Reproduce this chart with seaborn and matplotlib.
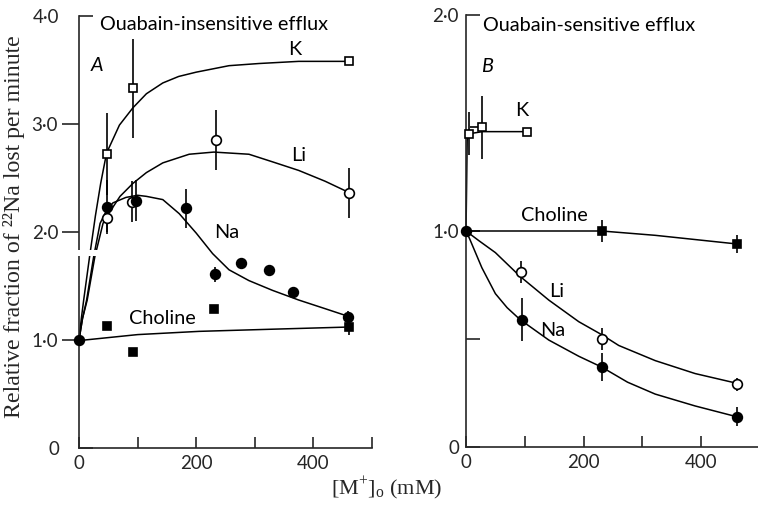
import matplotlib
matplotlib.use("Agg")
import matplotlib.pyplot as plt
import seaborn as sns
import numpy as np

# ---------------- data: panel A (ouabain-insensitive) ----------------
origin_x = [0]
origin_y = [1.0]

a_k_x = [47, 92, 460]
a_k_y = [2.72, 3.33, 3.58]
a_k_err = [0.38, 0.46, 0.0]

a_li_x = [47, 90, 233, 460]
a_li_y = [2.13, 2.28, 2.85, 2.36]
a_li_err = [0.13, 0.19, 0.28, 0.23]

a_na_x = [47, 97, 183, 232, 276, 324, 366, 459]
a_na_y = [2.23, 2.29, 2.22, 1.61, 1.71, 1.65, 1.44, 1.21]
a_na_err = [0.25, 0.19, 0.18, 0.07, 0.0, 0.0, 0.0, 0.06]

a_ch_x = [47, 92, 230, 460]
a_ch_y = [1.13, 0.89, 1.29, 1.12]
a_ch_err = [0.0, 0.0, 0.0, 0.07]

# fitted curves
a_k_cx = [0, 4, 8, 18, 28, 37, 47, 69, 92, 115, 143, 170, 200, 256, 307, 375, 460]
a_k_cy = [1.0, 1.2, 1.37, 1.77, 2.15, 2.45, 2.73, 2.99, 3.15, 3.28, 3.38, 3.44, 3.48, 3.54, 3.56, 3.58, 3.58]
a_li_cx = [0, 6, 14, 27, 41, 47, 70, 92, 115, 143, 188, 230, 290, 330, 375, 420, 459]
a_li_cy = [1.0, 1.2, 1.37, 1.77, 2.08, 2.14, 2.33, 2.45, 2.55, 2.64, 2.72, 2.74, 2.72, 2.65, 2.57, 2.47, 2.37]
a_na_cx = [0, 6, 13, 25, 36, 47, 58, 80, 100, 115, 143, 171, 200, 228, 256, 290, 330, 375, 420, 459]
a_na_cy = [1.0, 1.2, 1.37, 1.77, 2.08, 2.20, 2.27, 2.32, 2.34, 2.33, 2.30, 2.17, 1.99, 1.80, 1.65, 1.55, 1.46, 1.37, 1.29, 1.22]
a_ch_cx = [0, 10, 100, 205, 330, 460]
a_ch_cy = [1.0, 1.0, 1.05, 1.08, 1.10, 1.12]

# ---------------- data: panel B (ouabain-sensitive) ----------------
b_k_x = [5, 28, 103]
b_k_y = [1.45, 1.48, 1.46]
b_k_err = [0.10, 0.145, 0.0]
b_k_xerr_left = [0, 22, 0]

b_li_x = [93, 231, 461]
b_li_y = [0.81, 0.50, 0.29]
b_li_err = [0.05, 0.05, 0.03]

b_na_x = [95, 231, 461]
b_na_y = [0.59, 0.37, 0.14]
b_na_err = [0.10, 0.065, 0.045]

b_ch_x = [231, 461]
b_ch_y = [1.0, 0.94]
b_ch_err = [0.05, 0.04]

b_k_cx = [0, 1, 2, 5, 28, 103]
b_k_cy = [1.0, 1.2, 1.42, 1.45, 1.46, 1.46]
b_ch_cx = [0, 120, 231, 322, 461]
b_ch_cy = [1.0, 1.0, 1.0, 0.98, 0.94]
b_li_cx = [0, 22, 50, 92, 141, 192, 231, 260, 322, 390, 461]
b_li_cy = [1.0, 0.955, 0.90, 0.79, 0.68, 0.58, 0.52, 0.47, 0.40, 0.34, 0.295]
b_na_cx = [0, 6, 13, 27, 50, 70, 92, 141, 192, 231, 275, 322, 390, 461]
b_na_cy = [1.0, 0.965, 0.92, 0.83, 0.71, 0.645, 0.59, 0.495, 0.42, 0.37, 0.30, 0.245, 0.19, 0.14]

a_yticks = [1, 2, 3]
a_yticklabels = ["1·0", "2·0", "3·0"]
b_yticks = [0, 0.5, 1.0, 2.0]
b_yticklabels = ["0", "", "1·0", "2·0"]
xticks = [0, 100, 200, 300, 400, 500]
xticklabels = ["0", "", "200", "", "400", ""]

# ---------------- style ----------------
sns.set_style("ticks")
plt.rcParams["font.family"] = ["Lato", "DejaVu Sans"]
plt.rcParams["axes.linewidth"] = 1.2
plt.rcParams["mathtext.fontset"] = "custom"
plt.rcParams["mathtext.rm"] = "Liberation Serif"

fig = plt.figure(figsize=(7.58, 5.11), dpi=100)
axA = fig.add_axes([79 / 758, 63 / 511, 293 / 758, 432 / 511])
axB = fig.add_axes([466 / 758, 64 / 511, 293.75 / 758, 432 / 511])

LW = 1.1
TICKFS = 13.5
common_line = dict(color="black", linewidth=LW, estimator=None, sort=False, legend=False)


def curve(ax, xs, ys):
    sns.lineplot(x=xs, y=ys, ax=ax, **common_line)
    for l in ax.lines[-1:]:
        l.set_clip_on(False)
        l.set_solid_joinstyle("round")


def points(ax, xs, ys, err, marker, filled, ms, xerr=None):
    ax.errorbar(xs, ys, yerr=err, xerr=xerr, fmt=marker, ms=ms,
                mfc="black" if filled else "white", mec="black", mew=1.2,
                ecolor="black", elinewidth=1.2, capsize=0, clip_on=False, zorder=4)


for ax in (axA, axB):
    for s in ("top", "right"):
        ax.spines[s].set_visible(False)
    ax.set_xlim(0, 500)
    ax.set_xticks(xticks)
    ax.set_xticklabels(xticklabels)
    ax.tick_params(axis="x", direction="in", length=8, width=1.2, labelsize=TICKFS, pad=5)
    ax.set_xlabel("")
    ax.set_ylabel("")

# ---- panel A ----
axA.set_ylim(0, 4.0)
axA.set_yticks(a_yticks)
axA.set_yticklabels(a_yticklabels)
axA.tick_params(axis="y", which="major", direction="out", length=12, width=1.2, labelsize=TICKFS, pad=3)
axA.set_yticks([0, 4.0], minor=True)
axA.set_yticklabels(["0", "4·0"], minor=True)
axA.tick_params(axis="y", which="minor", direction="in", length=10, width=1.2, labelsize=TICKFS, pad=14)

curve(axA, a_k_cx, a_k_cy)
curve(axA, a_li_cx, a_li_cy)
curve(axA, a_na_cx, a_na_cy)
curve(axA, a_ch_cx, a_ch_cy)
points(axA, a_k_x, a_k_y, a_k_err, "s", False, 6)
points(axA, a_li_x, a_li_y, a_li_err, "o", False, 7)
points(axA, a_na_x, a_na_y, a_na_err, "o", True, 7)
points(axA, a_ch_x, a_ch_y, a_ch_err, "s", True, 6)
points(axA, origin_x, origin_y, None, "o", True, 7)
# axis break
axA.axhspan(1.775, 1.83, xmin=-0.03, xmax=0.07, facecolor="white", edgecolor="none", zorder=5, clip_on=False)

tkw = dict(fontsize=14.3, color="black")
axA.text(36, 3.92, "Ouabain-insensitive efflux", va="center", ha="left", **tkw)
axA.text(30, 3.54, "A", style="italic", va="center", ha="center", **tkw)
axA.text(368, 3.69, "K", va="center", ha="center", **tkw)
axA.text(375, 2.71, "Li", va="center", ha="center", **tkw)
axA.text(252, 2.0, "Na", va="center", ha="center", **tkw)
axA.text(86, 1.20, "Choline", va="center", ha="left", **tkw)

# ---- panel B ----
axB.set_ylim(0, 2.0)
axB.set_yticks(b_yticks)
axB.set_yticklabels(b_yticklabels)
axB.tick_params(axis="y", direction="in", length=10, width=1.2, labelsize=TICKFS, pad=5)

curve(axB, b_k_cx, b_k_cy)
curve(axB, b_ch_cx, b_ch_cy)
curve(axB, b_li_cx, b_li_cy)
curve(axB, b_na_cx, b_na_cy)
points(axB, b_k_x, b_k_y, b_k_err, "s", False, 6,
       xerr=[b_k_xerr_left, [0] * len(b_k_x)])
points(axB, b_li_x, b_li_y, b_li_err, "o", False, 7)
points(axB, b_na_x, b_na_y, b_na_err, "o", True, 7)
points(axB, b_ch_x, b_ch_y, b_ch_err, "s", True, 6)
points(axB, origin_x, origin_y, None, "o", True, 7)

axB.text(29, 1.95, "Ouabain-sensitive efflux", va="center", ha="left", **tkw)
axB.text(36, 1.76, "B", style="italic", va="center", ha="center", **tkw)
axB.text(94, 1.56, "K", va="center", ha="center", **tkw)
axB.text(151, 1.07, "Choline", va="center", ha="center", **tkw)
axB.text(155, 0.72, "Li", va="center", ha="center", **tkw)
axB.text(148, 0.54, "Na", va="center", ha="center", **tkw)

# ---- axis titles ----
serif = ["Liberation Serif", "DejaVu Serif"]
fig.text(0.018, 0.556, "Relative fraction of ²²Na lost per minute", rotation=90,
         ha="center", va="center", fontsize=17.2, family=serif)
fig.text(0.51, 0.045, "[M$^{+}$]$_{\\mathrm{o}}$ (mM)", ha="center", va="center",
         fontsize=16, family=serif)

fig.savefig("out.png", dpi=100)
